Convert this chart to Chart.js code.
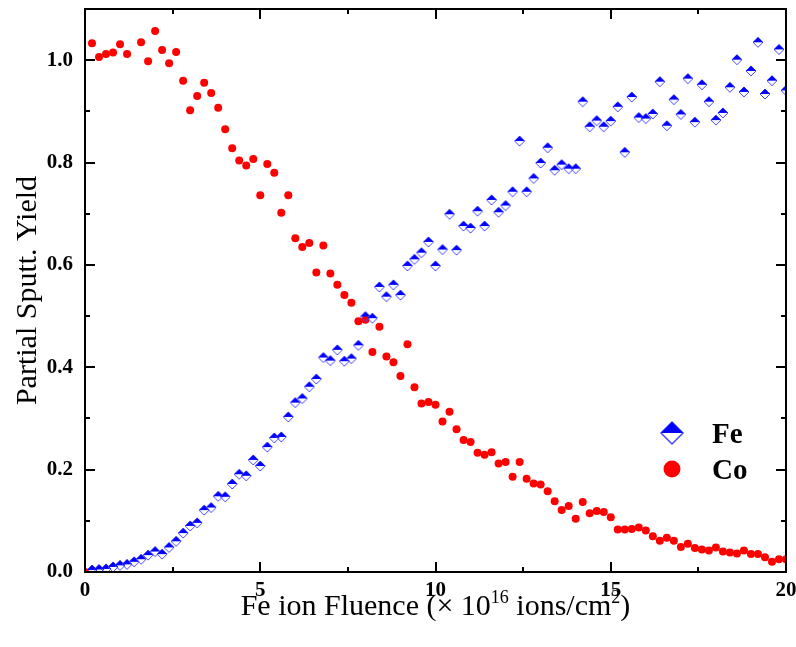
<!DOCTYPE html>
<html>
<head>
<meta charset="utf-8">
<script src="https://cdn.jsdelivr.net/npm/chart.js@4.4.1/dist/chart.umd.min.js"></script>
<style>
    body { margin: 0; background: #fff; }
    canvas { display: block; }
</style>
</head>
<body>
<canvas id="sputter-chart" width="796" height="647"></canvas>
<script>
// Fluence in units of 1e16 ions/cm2
const fluence = [
    0, 0.2, 0.4, 0.6, 0.8, 1.0, 1.2, 1.4, 1.6, 1.8,
    2.0, 2.2, 2.4, 2.6, 2.8, 3.0, 3.2, 3.4, 3.6, 3.8,
    4.0, 4.2, 4.4, 4.6, 4.8, 5.0, 5.2, 5.4, 5.6, 5.8,
    6.0, 6.2, 6.4, 6.6, 6.8, 7.0, 7.2, 7.4, 7.6, 7.8,
    8.0, 8.2, 8.4, 8.6, 8.8, 9.0, 9.2, 9.4, 9.6, 9.8,
    10.0, 10.2, 10.4, 10.6, 10.8, 11.0, 11.2, 11.4, 11.6, 11.8,
    12.0, 12.2, 12.4, 12.6, 12.8, 13.0, 13.2, 13.4, 13.6, 13.8,
    14.0, 14.2, 14.4, 14.6, 14.8, 15.0, 15.2, 15.4, 15.6, 15.8,
    16.0, 16.2, 16.4, 16.6, 16.8, 17.0, 17.2, 17.4, 17.6, 17.8,
    18.0, 18.2, 18.4, 18.6, 18.8, 19.0, 19.2, 19.4, 19.6, 19.8,
    20.0
];

const feYield = [
    null, 0.004, 0.005, 0.006, 0.010, 0.013, 0.015, 0.020, 0.025, 0.033,
    0.040, 0.035, 0.048, 0.060, 0.076, 0.090, 0.096, 0.121, 0.126, 0.148,
    0.147, 0.172, 0.191, 0.188, 0.219, 0.207, 0.244, 0.262, 0.264, 0.303,
    0.331, 0.339, 0.362, 0.377, 0.419, 0.413, 0.434, 0.412, 0.417, 0.443,
    0.499, 0.496, 0.557, 0.538, 0.561, 0.541, 0.598, 0.611, 0.624, 0.645,
    0.598, 0.630, 0.699, 0.629, 0.676, 0.672, 0.705, 0.676, 0.727, 0.703,
    0.716, 0.743, 0.842, 0.743, 0.769, 0.799, 0.829, 0.785, 0.796, 0.788,
    0.788, 0.919, 0.870, 0.882, 0.870, 0.881, 0.909, 0.820, 0.928, 0.888,
    0.886, 0.895, 0.958, 0.872, 0.923, 0.894, 0.964, 0.879, 0.952, 0.919,
    0.883, 0.897, 0.947, 1.001, 0.938, 0.979, 1.035, 0.934, 0.960, 1.021,
    0.941
];

const coYield = [
    0.000, 1.033, 1.006, 1.012, 1.015, 1.031, 1.012, null, 1.035, 0.998,
    1.057, 1.020, 0.994, 1.016, 0.960, 0.902, 0.930, 0.956, 0.936, 0.907,
    0.865, 0.828, 0.804, 0.794, 0.807, 0.736, 0.797, 0.780, 0.702, 0.736,
    0.652, 0.635, 0.643, 0.585, 0.638, 0.583, 0.561, 0.541, 0.526, 0.490,
    0.493, 0.430, 0.479, 0.421, 0.410, 0.383, 0.445, 0.361, 0.329, 0.332,
    0.327, 0.294, 0.313, 0.279, 0.258, 0.254, 0.233, 0.229, 0.234, 0.212,
    0.215, 0.186, 0.215, 0.182, 0.173, 0.171, 0.158, 0.138, 0.121, 0.129,
    0.104, 0.137, 0.115, 0.119, 0.117, 0.107, 0.083, 0.083, 0.084, 0.087,
    0.081, 0.070, 0.061, 0.067, 0.061, 0.049, 0.055, 0.047, 0.044, 0.042,
    0.048, 0.040, 0.038, 0.036, 0.042, 0.035, 0.035, 0.029, 0.020, 0.025,
    0.025
];

const xTicks = [0, 5, 10, 15, 20];
const xMinorTicks = [2.5, 7.5, 12.5, 17.5];
const yTicks = [0, 0.2, 0.4, 0.6, 0.8, 1.0];
const yMinorTicks = [0.1, 0.3, 0.5, 0.7, 0.9];

const SERIF = '"Liberation Serif", "Times New Roman", serif';
const FE_BLUE = '#0000ff';
const FE_EDGE = '#4646ff';
const CO_RED = '#ff0000';

function toPoints(values) {
    return fluence
        .map((x, i) => ({ x, y: values[i] }))
        .filter(p => p.y !== null);
}

// diamond with filled top half and outlined bottom half
function drawHalfDiamond(g, cx, cy, r, lineWidth) {
    g.beginPath();
    g.moveTo(cx, cy - r);
    g.lineTo(cx + r, cy);
    g.lineTo(cx, cy + r);
    g.lineTo(cx - r, cy);
    g.closePath();
    g.strokeStyle = FE_EDGE;
    g.lineWidth = lineWidth;
    g.stroke();

    g.beginPath();
    g.moveTo(cx - r, cy);
    g.lineTo(cx, cy - r);
    g.lineTo(cx + r, cy);
    g.closePath();
    g.fillStyle = FE_BLUE;
    g.fill();
}

function makeDiamondImage(r) {
    const size = Math.ceil(r * 2 + 2);
    const c = document.createElement('canvas');
    c.width = size;
    c.height = size;
    drawHalfDiamond(c.getContext('2d'), size / 2, size / 2, r, 1);
    return c;
}

// scales are hidden; frame, ticks, labels and legend are drawn here
const frameAndLabels = {
    id: 'frameAndLabels',
    afterDraw(chart) {
        const { ctx, chartArea: a, scales: { x, y } } = chart;
        ctx.save();

        // inward ticks on all four sides
        ctx.strokeStyle = '#000';
        ctx.lineWidth = 2;
        ctx.beginPath();
        const xMark = (list, len) => list.forEach(v => {
            const px = Math.round(x.getPixelForValue(v));
            ctx.moveTo(px, a.bottom); ctx.lineTo(px, a.bottom - len);
            ctx.moveTo(px, a.top); ctx.lineTo(px, a.top + len);
        });
        const yMark = (list, len) => list.forEach(v => {
            const py = Math.round(y.getPixelForValue(v));
            ctx.moveTo(a.left, py); ctx.lineTo(a.left + len, py);
            ctx.moveTo(a.right, py); ctx.lineTo(a.right - len, py);
        });
        xMark(xTicks, 10);
        xMark(xMinorTicks, 5);
        yMark(yTicks, 10);
        yMark(yMinorTicks, 5);
        ctx.stroke();
        ctx.strokeRect(a.left, a.top, a.right - a.left, a.bottom - a.top);

        // tick labels
        ctx.fillStyle = '#000';
        ctx.font = `bold 21px ${SERIF}`;
        ctx.textBaseline = 'middle';
        ctx.textAlign = 'center';
        xTicks.forEach(v => ctx.fillText(String(v), x.getPixelForValue(v), a.bottom + 19));
        ctx.textAlign = 'right';
        yTicks.forEach(v => ctx.fillText(v.toFixed(1), a.left - 12, y.getPixelForValue(v)));

        // x title with superscripts
        ctx.textAlign = 'left';
        ctx.textBaseline = 'alphabetic';
        const parts = [
            ['Fe ion Fluence (\u00d7 10', 30, 0],
            ['16', 18, -12],
            [' ions/cm', 30, 0],
            ['2', 18, -12],
            [')', 30, 0]
        ];
        let total = 0;
        parts.forEach(([t, s]) => {
            ctx.font = `${s}px ${SERIF}`;
            total += ctx.measureText(t).width;
        });
        let cx = (a.left + a.right) / 2 - total / 2;
        parts.forEach(([t, s, dy]) => {
            ctx.font = `${s}px ${SERIF}`;
            ctx.fillText(t, cx, 615 + dy);
            cx += ctx.measureText(t).width;
        });

        // y title
        ctx.save();
        ctx.translate(36, (a.top + a.bottom) / 2);
        ctx.rotate(-Math.PI / 2);
        ctx.font = `30px ${SERIF}`;
        ctx.textAlign = 'center';
        ctx.fillText('Partial Sputt. Yield', 0, 0);
        ctx.restore();

        // legend
        drawHalfDiamond(ctx, 672, 433, 11, 1.5);
        ctx.beginPath();
        ctx.arc(672, 469, 8.5, 0, Math.PI * 2);
        ctx.fillStyle = CO_RED;
        ctx.fill();
        ctx.fillStyle = '#000';
        ctx.font = `bold 29px ${SERIF}`;
        ctx.textAlign = 'left';
        ctx.fillText('Fe', 712, 443);
        ctx.fillText('Co', 712, 479);

        ctx.restore();
    }
};

new Chart(document.getElementById('sputter-chart'), {
    type: 'scatter',
    data: {
        datasets: [
            {
                label: 'Fe',
                data: toPoints(feYield),
                pointStyle: makeDiamondImage(5),
                pointRadius: 5,
                clip: 0
            },
            {
                label: 'Co',
                data: toPoints(coYield),
                pointStyle: 'circle',
                pointRadius: 4,
                pointBorderWidth: 0,
                backgroundColor: CO_RED,
                borderColor: CO_RED,
                clip: 0
            }
        ]
    },
    options: {
        responsive: false,
        animation: false,
        layout: { padding: { top: 9, right: 10, left: 85, bottom: 75 } },
        plugins: {
            legend: { display: false },
            tooltip: { enabled: false }
        },
        scales: {
            x: { type: 'linear', min: 0, max: 20, display: false },
            y: { type: 'linear', min: 0, max: 1.1, display: false }
        }
    },
    plugins: [frameAndLabels]
});
</script>
</body>
</html>
